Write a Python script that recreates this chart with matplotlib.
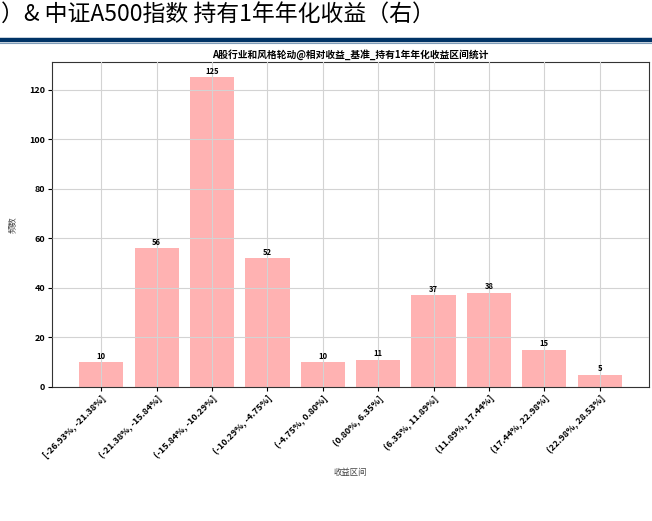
import matplotlib
matplotlib.use("Agg")
import matplotlib.pyplot as plt
from matplotlib.lines import Line2D

plt.rcParams['font.family'] = ['Noto Sans CJK SC', 'DejaVu Sans']

categories = ["[-26.93%, -21.38%]", "(-21.38%, -15.84%]", "(-15.84%, -10.29%]",
              "(-10.29%, -4.75%]", "(-4.75%, 0.80%]", "(0.80%, 6.35%]",
              "(6.35%, 11.89%]", "(11.89%, 17.44%]", "(17.44%, 22.98%]",
              "(22.98%, 28.53%]"]
counts = [10, 56, 125, 52, 10, 11, 37, 38, 15, 5]

title = "A股行业和风格轮动@相对收益_基准_持有1年年化收益区间统计"
header = "）& 中证A500指数 持有1年年化收益（右）"

fig = plt.figure(figsize=(6.52, 5.21), dpi=100)

# header strip
fig.text(0.002, 1.0 - 21/521, header, fontsize=16.5, color='black', ha='left', va='baseline')
fig.add_artist(Line2D([0, 1], [1 - 40/521, 1 - 40/521], transform=fig.transFigure,
                      color='#003366', linewidth=3.2))
fig.add_artist(Line2D([0, 1], [1 - 43/521, 1 - 43/521], transform=fig.transFigure,
                      color='#7f9cb8', linewidth=0.8))

ax = fig.add_axes([52/652, (521-387)/521, (649-52)/652, (387-62)/521])
x = list(range(len(categories)))
bars = ax.bar(x, counts, width=0.8, color='red', alpha=0.3)
ax.set_ylim(0, max(counts) * 1.05)
ax.grid(True, color='#d3d3d3', linewidth=0.8)
ax.set_axisbelow(False)
for b, v in zip(bars, counts):
    ax.text(b.get_x() + b.get_width()/2, v + 0.6, str(v), ha='center', va='bottom',
            fontsize=5.5, fontweight='bold')
ax.set_xticks(x)
ax.set_xticklabels(categories, rotation=45, ha='right', rotation_mode='anchor',
                   fontsize=6.5, fontweight='bold')
for lab in ax.get_yticklabels():
    lab.set_fontsize(6.5)
    lab.set_fontweight('bold')
ax.tick_params(axis='both', length=3, width=0.8, pad=2)
ax.set_title(title, fontsize=7, fontweight='bold', pad=3)
ax.set_xlabel("收益区间", fontsize=6, color='#444444', labelpad=6)
ax.set_ylabel("频数", fontsize=6, color='#444444', labelpad=9)
for s in ax.spines.values():
    s.set_color('#333333')
    s.set_linewidth(0.8)

fig.savefig("out.png", dpi=100)
